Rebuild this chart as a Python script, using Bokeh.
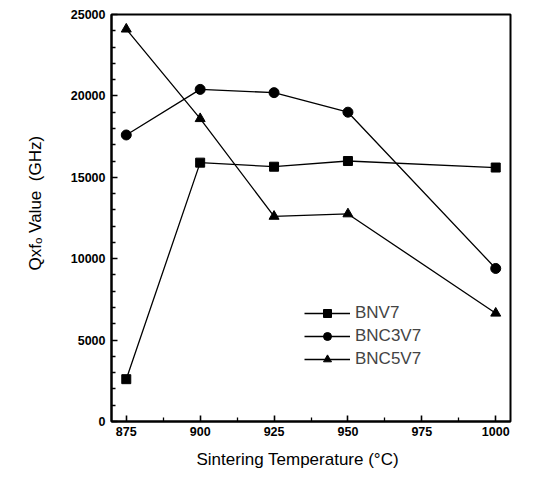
from bokeh.plotting import figure
from bokeh.models import Range1d, FixedTicker, Legend, LegendItem, Title
from bokeh.embed import file_html
from bokeh.resources import INLINE

temps = [875, 900, 925, 950, 1000]
bnv7 = [2600, 15900, 15650, 16000, 15600]
bnc3v7 = [17600, 20400, 20200, 19000, 9400]
bnc5v7 = [24100, 18600, 12600, 12750, 6650]
x_ticks = [875, 900, 925, 950, 975, 1000]
x_minor = [887.5, 912.5, 937.5, 962.5, 987.5]
y_ticks = [0, 5000, 10000, 15000, 20000, 25000]
y_minor = [v for v in range(1000, 25000, 1000) if v % 5000]
x_title = "Sintering Temperature (°C)"
y_title = "Qxfₒ Value\u00a0\u00a0(GHz)"

p = figure(width=525, height=479, output_backend="svg", toolbar_location=None,
           x_range=Range1d(870, 1005), y_range=Range1d(0, 25000),
           min_border_left=110, min_border_right=15, min_border_top=14, min_border_bottom=58)
p.xgrid.visible = False
p.ygrid.visible = False
p.outline_line_color = "black"
p.outline_line_width = 2
p.background_fill_color = "white"
p.border_fill_color = "white"

font = "Liberation Sans"
for ax in (p.xaxis[0], p.yaxis[0]):
    ax.axis_line_width = 2
    ax.axis_line_color = "black"
    ax.major_tick_in = 6
    ax.major_tick_out = 0
    ax.minor_tick_in = 4
    ax.minor_tick_out = 0
    ax.major_tick_line_width = 1.6
    ax.minor_tick_line_width = 1.3
    ax.major_tick_line_color = "black"
    ax.minor_tick_line_color = "black"
    ax.major_label_text_font = font
    ax.major_label_text_font_style = "bold"
    ax.major_label_text_font_size = "12.5px"
    ax.major_label_text_color = "black"

p.xaxis[0].ticker = FixedTicker(ticks=x_ticks, minor_ticks=x_minor)
p.yaxis[0].ticker = FixedTicker(ticks=y_ticks, minor_ticks=y_minor)
p.xaxis[0].major_label_standoff = 5
p.yaxis[0].major_label_standoff = 6

p.add_layout(Title(text=x_title, align="left", offset=85, standoff=19,
                   text_font=font, text_font_size="17px", text_font_style="normal",
                   text_color="black"), "below")
p.add_layout(Title(text=y_title, align="left", offset=151, standoff=46,
                   text_font=font, text_font_size="17px", text_font_style="normal",
                   text_color="black"), "left")

r1l = p.line(temps, bnv7, line_color="black", line_width=1.3)
r1m = p.scatter(temps, bnv7, marker="square", size=9, color="black")
r2l = p.line(temps, bnc3v7, line_color="black", line_width=1.3)
r2m = p.scatter(temps, bnc3v7, marker="circle", size=10, color="black")
r3l = p.line(temps, bnc5v7, line_color="black", line_width=1.3)
r3m = p.scatter(temps, bnc5v7, marker="triangle", size=10, color="black")

legend = Legend(items=[LegendItem(label="BNV7", renderers=[r1l, r1m]),
                       LegendItem(label="BNC3V7", renderers=[r2l, r2m]),
                       LegendItem(label="BNC5V7", renderers=[r3l, r3m])],
                location=(193, 52), glyph_width=46, glyph_height=20, spacing=3,
                padding=0, margin=0, border_line_color=None, background_fill_alpha=0,
                label_text_font=font, label_text_font_size="17px", label_standoff=5)
p.add_layout(legend, "center")

open("out.html", "w").write(file_html(p, INLINE))
